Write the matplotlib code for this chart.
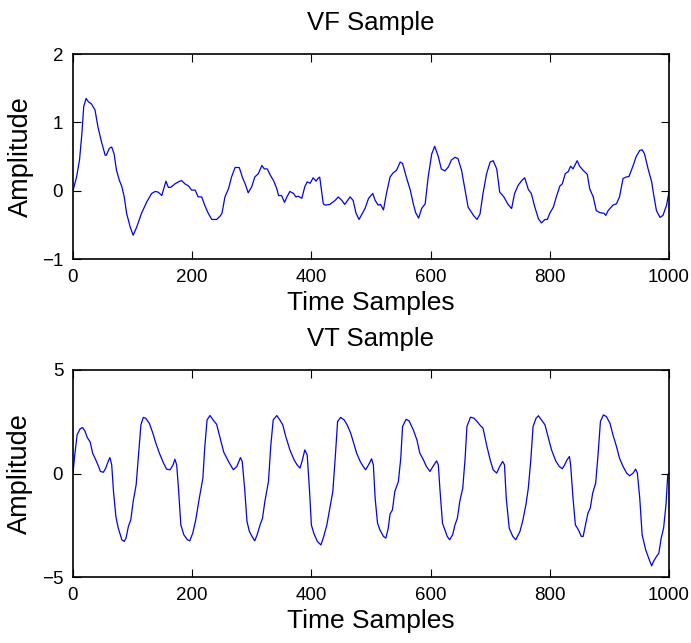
#!/usr/bin/env python
import matplotlib
matplotlib.use('Agg')
import matplotlib.pyplot as plt

plt.rcParams['font.family'] = ['Liberation Sans', 'DejaVu Sans']

# VF sample
vf_t = [0, 6, 11, 15, 18, 22, 26, 31, 37, 42, 48, 54, 56, 61, 65, 69, 73, 78, 82, 86,
        90, 96, 101, 107, 115, 124, 132, 138, 143, 149, 153, 156, 160, 164, 171, 177, 182, 188, 194, 199,
        205, 210, 216, 221, 227, 233, 241, 247, 250, 255, 261, 266, 272, 279, 285, 289, 294, 300, 305, 311,
        317, 321, 326, 331, 337, 342, 345, 350, 355, 359, 364, 370, 374, 378, 384, 389, 393, 398, 403, 408,
        411, 414, 420, 423, 431, 440, 445, 451, 456, 465, 470, 475, 480, 490, 496, 503, 507, 512, 516, 521,
        526, 532, 537, 543, 549, 553, 560, 566, 571, 575, 580, 585, 591, 596, 602, 607, 613, 618, 624, 630,
        635, 641, 646, 652, 658, 663, 672, 678, 683, 688, 694, 700, 705, 711, 716, 723, 730, 736, 741, 747,
        753, 758, 764, 769, 775, 781, 786, 792, 796, 800, 806, 811, 817, 821, 826, 831, 835, 839, 842, 846,
        850, 856, 863, 867, 873, 878, 884, 891, 894, 898, 906, 912, 917, 923, 928, 933, 940, 945, 951, 955,
        959, 965, 971, 974, 979, 985, 990, 996, 1000]
vf_amp = [0, 0.2, 0.45, 0.84, 1.23, 1.35, 1.30, 1.27, 1.18, 0.93, 0.71, 0.52, 0.52, 0.62, 0.64, 0.54, 0.30, 0.15, 0.06, -0.09,
          -0.33, -0.53, -0.65, -0.53, -0.33, -0.16, -0.04, -0.01, -0.02, -0.07, 0.05, 0.14, 0.05, 0.05, 0.10, 0.13, 0.15, 0.10, 0.07, 0.01,
          0.01, -0.09, -0.09, -0.21, -0.33, -0.42, -0.42, -0.37, -0.33, -0.09, 0.03, 0.20, 0.34, 0.34, 0.18, 0.10, -0.03, 0.06, 0.20, 0.25,
          0.37, 0.32, 0.32, 0.23, 0.14, 0.03, -0.07, -0.07, -0.17, -0.09, -0.01, -0.04, -0.09, -0.08, -0.11, 0.06, 0.13, 0.11, 0.19, 0.14,
          0.18, 0.20, -0.19, -0.21, -0.20, -0.14, -0.09, -0.14, -0.20, -0.09, -0.14, -0.33, -0.42, -0.26, -0.11, -0.04, -0.14, -0.21, -0.20, -0.28,
          -0.04, 0.20, 0.26, 0.30, 0.42, 0.40, 0.18, 0.01, -0.19, -0.32, -0.40, -0.26, -0.19, 0.20, 0.54, 0.65, 0.50, 0.32, 0.29, 0.35,
          0.45, 0.49, 0.47, 0.30, 0.01, -0.24, -0.36, -0.42, -0.34, -0.04, 0.25, 0.42, 0.44, 0.32, -0.02, -0.09, -0.20, -0.26, -0.04, 0.08,
          0.15, 0.19, 0.02, -0.04, -0.24, -0.41, -0.47, -0.42, -0.42, -0.33, -0.24, -0.09, 0.07, 0.10, 0.25, 0.28, 0.36, 0.32, 0.37, 0.44,
          0.36, 0.30, 0.24, 0.03, -0.09, -0.29, -0.32, -0.33, -0.36, -0.29, -0.21, -0.19, -0.09, 0.18, 0.20, 0.21, 0.37, 0.50, 0.59, 0.60,
          0.54, 0.32, 0.13, -0.04, -0.29, -0.39, -0.36, -0.21, -0.02]

# VT sample
vt_t = [0, 3, 7, 12, 16, 20, 24, 29, 33, 37, 43, 46, 51, 55, 59, 62, 65, 68, 72, 76,
        82, 86, 89, 93, 97, 101, 106, 110, 114, 118, 122, 128, 134, 139, 145, 152, 157, 163, 168, 171,
        174, 177, 181, 186, 192, 196, 201, 206, 212, 218, 221, 225, 230, 235, 241, 247, 253, 261, 269, 275,
        281, 284, 288, 292, 296, 302, 305, 309, 314, 318, 322, 328, 332, 336, 342, 347, 352, 357, 364, 371,
        376, 381, 385, 389, 393, 397, 400, 404, 410, 416, 420, 426, 430, 436, 440, 444, 449, 455, 460, 466,
        471, 476, 482, 487, 491, 496, 501, 504, 507, 511, 515, 521, 525, 529, 532, 536, 540, 546, 550, 553,
        559, 564, 571, 577, 582, 588, 593, 599, 604, 610, 613, 616, 620, 624, 628, 632, 637, 641, 645, 649,
        654, 658, 661, 667, 673, 678, 684, 688, 694, 700, 705, 711, 716, 721, 724, 727, 732, 738, 743, 750,
        755, 760, 764, 768, 772, 777, 781, 786, 792, 797, 803, 810, 816, 821, 825, 829, 833, 835, 839, 843,
        848, 853, 856, 860, 864, 868, 872, 877, 881, 885, 890, 895, 901, 906, 912, 917, 923, 929, 934, 940,
        944, 947, 951, 955, 961, 967, 971, 974, 979, 983, 987, 991, 995, 998, 1000]
vt_amp = [0, 0.90, 1.87, 2.16, 2.22, 2.06, 1.74, 1.51, 0.98, 0.74, 0.34, 0.10, 0.06, 0.26, 0.58, 0.77, 0.42, -0.87, -2.08, -2.64,
          -3.20, -3.28, -3.12, -2.56, -2.24, -1.35, -0.55, 0.90, 2.35, 2.71, 2.67, 2.43, 1.95, 1.47, 0.98, 0.50, 0.21, 0.18, 0.42, 0.69,
          0.42, -0.71, -2.48, -2.96, -3.20, -3.25, -2.88, -2.24, -1.19, -0.23, 1.22, 2.59, 2.80, 2.59, 2.38, 1.71, 1.03, 0.58, 0.18, 0.34,
          0.77, 0.58, -0.71, -2.32, -2.80, -3.12, -3.25, -2.96, -2.48, -2.16, -1.35, -0.39, 1.38, 2.59, 2.80, 2.59, 2.35, 1.79, 1.14, 0.66,
          0.42, 0.26, 0.66, 1.14, 0.90, -0.87, -2.48, -2.88, -3.28, -3.45, -3.12, -2.48, -1.84, -0.87, 0.74, 2.51, 2.71, 2.59, 2.35, 1.95,
          1.47, 0.98, 0.58, 0.34, 0.18, 0.42, 0.71, 0.42, -1.19, -2.40, -2.72, -3.04, -3.12, -2.64, -1.96, -1.76, -0.87, -0.39, 0.74, 2.27,
          2.62, 2.54, 2.11, 1.63, 0.98, 0.66, 0.34, 0.10, 0.34, 0.61, 0.42, -0.87, -2.40, -2.72, -3.04, -3.20, -2.96, -2.48, -2.16, -1.35,
          -0.71, 0.74, 2.27, 2.72, 2.67, 2.51, 2.30, 2.19, 1.38, 0.66, 0.18, 0.02, 0.34, 0.58, 0.42, -1.19, -2.64, -3.04, -3.20, -2.80,
          -2.24, -1.51, -0.71, 0.58, 2.27, 2.67, 2.79, 2.59, 2.35, 1.79, 1.14, 0.61, 0.34, 0.23, 0.42, 0.66, 0.82, 0.42, -1.19, -2.48,
          -2.72, -3.04, -3.04, -2.48, -1.92, -1.67, -0.95, -0.47, 0.90, 2.51, 2.83, 2.75, 2.43, 1.87, 1.30, 0.74, 0.34, 0.02, -0.11, 0.02,
          0.21, 0.02, -1.19, -2.96, -3.69, -4.17, -4.46, -4.25, -4.01, -3.85, -3.12, -2.64, -1.51, -0.06, 0.02]

x_ticks = [0, 200, 400, 600, 800, 1000]

fig = plt.figure(figsize=(6.91, 6.43), dpi=100)

# top panel
ax1 = fig.add_axes([0.1056, 0.597, 0.8625, 0.319])
ax1.plot(vf_t, vf_amp, color='blue', linewidth=0.9)
ax1.set_xlim(0, 1000)
ax1.set_ylim(-1, 2)
ax1.set_xticks(x_ticks)
ax1.set_yticks([-1, 0, 1, 2])
ax1.set_title('VF Sample', fontsize=18.5, pad=17)
ax1.set_xlabel('Time Samples', fontsize=19, labelpad=4)
ax1.set_ylabel('Amplitude', fontsize=19.5, labelpad=6)

# bottom panel
ax2 = fig.add_axes([0.1056, 0.1026, 0.8625, 0.322])
ax2.plot(vt_t, vt_amp, color='blue', linewidth=0.9)
ax2.set_xlim(0, 1000)
ax2.set_ylim(-5, 5)
ax2.set_xticks(x_ticks)
ax2.set_yticks([-5, 0, 5])
ax2.set_title('VT Sample', fontsize=18.5, pad=17)
ax2.set_xlabel('Time Samples', fontsize=19, labelpad=4)
ax2.set_ylabel('Amplitude', fontsize=19.5, labelpad=6)

# matlab-ish ticks: inward, on all four sides
for ax in (ax1, ax2):
    ax.tick_params(direction='in', top=True, right=True, length=6, width=0.8, labelsize=13.5, pad=7)
    for s in ax.spines.values():
        s.set_linewidth(1.2)

plt.savefig('out.png', dpi=100)
